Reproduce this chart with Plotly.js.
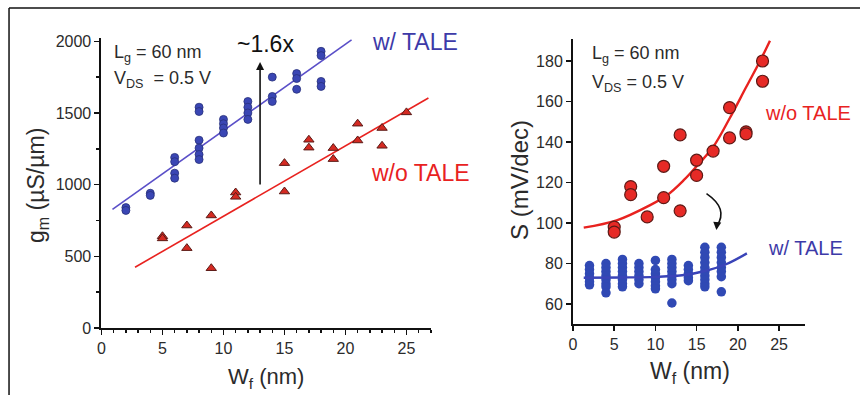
<!DOCTYPE html>
<html>
<head>
<meta charset="utf-8">
<script src="https://cdn.plot.ly/plotly-3.0.1.min.js"></script>
<style>
  html, body { margin: 0; padding: 0; background: #ffffff; }
  #chart { width: 860px; height: 395px; }
</style>
</head>
<body>
<div id="chart"></div>
<script>
// ---- Left panel: transconductance gm vs fin width Wf ----
const gmWithTaleX = [2, 2, 4, 4, 6, 6, 6, 6, 8, 8, 8, 8, 8, 8, 10, 10, 10, 10, 12, 12, 12, 12, 14, 14, 14, 16, 16, 16, 18, 18, 18, 18];
const gmWithTaleY = [840, 820, 940, 925, 1190, 1160, 1080, 1045, 1540, 1510, 1310, 1255, 1210, 1175, 1455, 1425, 1395, 1360, 1580, 1540, 1500, 1455, 1750, 1615, 1580, 1775, 1740, 1665, 1930, 1900, 1720, 1685];
const gmWithoutTaleX = [5, 5, 7, 7, 9, 9, 11, 11, 15, 15, 17, 17, 19, 19, 21, 21, 23, 23, 25];
const gmWithoutTaleY = [640, 625, 715, 557, 785, 417, 945, 915, 1150, 952, 1313, 1258, 1255, 1178, 1425, 1308, 1395, 1271, 1504];
// linear fit end points
const gmFitWithX = [0.9, 20.5];
const gmFitWithY = [828, 2010];
const gmFitWithoutX = [2.75, 26.8];
const gmFitWithoutY = [424, 1604];
// ~1.6x arrow (Wf, gm from -> to)
const gainArrowX = 13;
const gainArrowFrom = 990;
const gainArrowTo = 1855;

// ---- Right panel: subthreshold swing S vs fin width Wf ----
const ssWithoutTaleX = [5, 5, 7, 7, 9, 11, 11, 13, 13, 15, 15, 17, 19, 19, 21, 21, 23, 23];
const ssWithoutTaleY = [98, 95.5, 118, 114, 103, 128, 112.5, 143.5, 106, 131, 123.5, 135.5, 157, 142, 145, 144, 180, 170];
const ssWithTaleX = [
  2, 2, 2, 2, 2, 2,
  4, 4, 4, 4, 4, 4, 4, 4,
  6, 6, 6, 6, 6, 6, 6, 6,
  8, 8, 8, 8, 8, 8,
  10, 10, 10, 10, 10, 10, 10,
  12, 12, 12, 12, 12, 12, 12, 12,
  14, 14, 14, 14, 14,
  16, 16, 16, 16, 16, 16, 16, 16, 16, 16,
  18, 18, 18, 18, 18, 18, 18, 18
];
const ssWithTaleY = [
  79, 77, 75, 73, 71, 69.5,
  80, 78, 76, 74, 72, 70, 68.5, 65.5,
  82, 80, 78, 76, 74, 72, 70, 68.5,
  80, 78, 76, 74, 72, 70,
  81.5, 77, 75, 73, 71, 69, 67.5,
  82, 80, 78, 76, 74, 72, 70, 60.5,
  79, 77, 75, 73, 71.5,
  88, 85.5, 83, 80.5, 78, 76, 74, 72, 70, 68.5,
  88, 85.5, 83, 80.5, 78, 76, 73.5, 66
];
// fitted trend curves
const ssCurveWithoutX = [1.3, 5.3, 9.3, 11.4, 13.4, 15.1, 17, 19, 21, 22.7, 23.9];
const ssCurveWithoutY = [97.7, 101.3, 108.7, 113.7, 121, 128.5, 137.5, 151.6, 167, 180, 190];
const ssCurveWithX = [1.3, 6, 10, 13.5, 16, 18.5, 21.1];
const ssCurveWithY = [73, 73.1, 73.4, 74.3, 76.3, 79.5, 85];

const FONT = 'Liberation Sans, Arial, sans-serif';
const INK = '#2b2b2b';
const PURPLE = '#5a4fc8';
const LABEL_BLUE = '#3d3aa8';
const RED = '#e8221f';
const W = 860, H = 395;
const NB = '\u00a0';

// place a free text label by its centre, in pixels from the top-left corner
function label(px, py, text, size, color, extra) {
  return Object.assign({
    xref: 'paper', yref: 'paper', x: px / W, y: 1 - py / H,
    xanchor: 'center', yanchor: 'middle', text: text, showarrow: false,
    font: { family: FONT, size: size, color: color }
  }, extra || {});
}

const traces = [
  { x: gmFitWithX, y: gmFitWithY, mode: 'lines', line: { color: PURPLE, width: 1.6 }, xaxis: 'x', yaxis: 'y' },
  { x: gmFitWithoutX, y: gmFitWithoutY, mode: 'lines', line: { color: RED, width: 1.6 }, xaxis: 'x', yaxis: 'y' },
  { x: gmWithTaleX, y: gmWithTaleY, mode: 'markers', xaxis: 'x', yaxis: 'y',
    marker: { symbol: 'circle', size: 8, color: '#3a46b4', line: { color: '#27307a', width: 0.8 } } },
  { x: gmWithoutTaleX, y: gmWithoutTaleY, mode: 'markers', xaxis: 'x', yaxis: 'y',
    marker: { symbol: 'triangle-up', size: 9, color: '#d42a22', line: { color: '#5a1a16', width: 1 } } },

  { x: ssCurveWithoutX, y: ssCurveWithoutY, mode: 'lines', line: { color: RED, width: 2.4, shape: 'spline' }, xaxis: 'x2', yaxis: 'y2' },
  { x: ssWithTaleX, y: ssWithTaleY, mode: 'markers', xaxis: 'x2', yaxis: 'y2',
    marker: { symbol: 'circle', size: 9.5, color: '#3049b4' } },
  { x: ssCurveWithX, y: ssCurveWithY, mode: 'lines', line: { color: '#3a44b8', width: 2.4, shape: 'spline' }, xaxis: 'x2', yaxis: 'y2' },
  { x: ssWithoutTaleX, y: ssWithoutTaleY, mode: 'markers', xaxis: 'x2', yaxis: 'y2',
    marker: { symbol: 'circle', size: 12, color: '#e62a26', line: { color: '#5e1a16', width: 1.2 } } }
];

const axisCommon = {
  showgrid: false, zeroline: false, showline: true, linecolor: '#111', linewidth: 2,
  ticks: 'outside', ticklen: 5, tickwidth: 1.5, tickcolor: '#111',
  tickfont: { family: FONT, size: 16, color: INK }, fixedrange: true
};

const layout = {
  width: W, height: H,
  margin: { l: 0, r: 0, t: 0, b: 0 },
  paper_bgcolor: '#ffffff', plot_bgcolor: 'rgba(0,0,0,0)',
  showlegend: false,
  font: { family: FONT, color: INK },
  xaxis: Object.assign({}, axisCommon, {
    domain: [0.118, 0.501], range: [0, 27], tickvals: [0, 5, 10, 15, 20, 25], anchor: 'y',
    minor: { dtick: 1, ticks: 'outside', ticklen: 3, tickcolor: '#111' }
  }),
  yaxis: Object.assign({}, axisCommon, {
    domain: [0.1696, 0.9046], range: [0, 2025], tickvals: [0, 500, 1000, 1500, 2000], anchor: 'x',
    minor: { dtick: 250, ticks: 'outside', ticklen: 3, tickcolor: '#111' }
  }),
  xaxis2: Object.assign({}, axisCommon, {
    domain: [0.6663, 0.9365], range: [0, 28.2], tickvals: [0, 5, 10, 15, 20, 25], anchor: 'y2'
  }),
  yaxis2: Object.assign({}, axisCommon, {
    domain: [0.1791, 0.902], range: [50, 191], tickvals: [60, 80, 100, 120, 140, 160, 180], anchor: 'x2'
  }),
  shapes: [
    // frame lines along the top and left edge
    { type: 'line', xref: 'paper', yref: 'paper', x0: 0.0105, x1: 1, y0: 0.98, y1: 0.98, line: { color: '#111', width: 1.5 } },
    { type: 'line', xref: 'paper', yref: 'paper', x0: 0.0105, x1: 0.0105, y0: 0, y1: 0.98, line: { color: '#111', width: 1.5 } },
    // curved arrow between the S curves
    { type: 'path', xref: 'x2', yref: 'y2', path: 'M 16.2,114.5 Q 18.9,107 17.45,98.5', line: { color: '#111', width: 1.6 } }
  ],
  annotations: [
    // left panel
    { xref: 'x', yref: 'y', x: gainArrowX, y: gainArrowTo, axref: 'x', ayref: 'y', ax: gainArrowX, ay: gainArrowFrom,
      showarrow: true, arrowhead: 2, arrowsize: 1, arrowwidth: 1.6, arrowcolor: '#111', text: '' },
    label(265, 44, '~1.6x', 23, '#111'),
    label(415, 42, 'w/ TALE', 23, LABEL_BLUE),
    label(420, 173, 'w/o TALE', 23, RED),
    label(112, 53, 'L<sub>g</sub> = 60 nm', 18, INK, { xanchor: 'left' }),
    label(112, 80, 'V<sub>DS</sub>' + NB + NB + '= 0.5 V', 18, INK, { xanchor: 'left' }),
    label(37, 186, 'g<sub>m</sub> (µS/µm)', 23, INK, { textangle: -90 }),
    label(266, 378, 'W<sub>f</sub> (nm)', 22, INK),

    // right panel
    label(590, 55, 'L<sub>g</sub> = 60 nm', 18, INK, { xanchor: 'left' }),
    label(590, 83, 'V<sub>DS</sub> = 0.5 V', 18, INK, { xanchor: 'left' }),
    label(808, 113, 'w/o TALE', 20, RED),
    label(805, 248, 'w/ TALE', 20, LABEL_BLUE),
    label(519, 180, 'S (mV/dec)', 24, INK, { textangle: -90 }),
    label(690, 372, 'W<sub>f</sub> (nm)', 23, INK),
    // head of the curved arrow
    { xref: 'x2', yref: 'y2', x: 17.4, y: 96.5, ax: 1, ay: -9, showarrow: true, arrowhead: 2, arrowsize: 1,
      arrowwidth: 1.6, arrowcolor: '#111', text: '' }
  ]
};

Plotly.newPlot('chart', traces, layout, { staticPlot: true, displayModeBar: false });
</script>
</body>
</html>
